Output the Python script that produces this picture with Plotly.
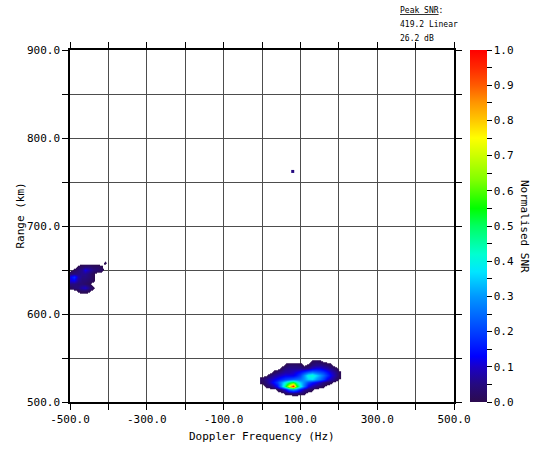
import plotly.graph_objects as go

# ---------------- data ----------------
# main echo (Doppler 0..200 Hz, range 506..550 km), normalised SNR
main_freq = [0, 10, 20, 30, 40, 50, 60, 70, 80, 90, 100, 110, 120, 130, 140, 150, 160, 170, 180, 190, 200]
main_range = [506, 510, 514, 518, 522, 526, 530, 534, 538, 542, 546, 550]
main_snr = [
    [0, 0, 0, 0, 0, 0, 0, 0, 0, 0, 0, 0, 0, 0, 0, 0, 0, 0, 0, 0, 0],
    [0, 0, 0, 0, 0, 0, 0.02, 0.03, 0.04, 0.04, 0.03, 0.02, 0, 0, 0, 0, 0, 0, 0, 0, 0],
    [0, 0, 0, 0, 0.02, 0.05, 0.12, 0.25, 0.3, 0.25, 0.15, 0.07, 0.04, 0.02, 0, 0, 0, 0, 0, 0, 0],
    [0, 0.02, 0.04, 0.07, 0.14, 0.3, 0.5, 0.75, 1.0, 0.6, 0.4, 0.25, 0.12, 0.08, 0.05, 0.03, 0.02, 0, 0, 0, 0],
    [0.02, 0.05, 0.1, 0.14, 0.2, 0.3, 0.4, 0.5, 0.55, 0.45, 0.35, 0.28, 0.2, 0.15, 0.12, 0.08, 0.05, 0.03, 0.02, 0, 0],
    [0.03, 0.06, 0.09, 0.11, 0.14, 0.17, 0.2, 0.22, 0.24, 0.25, 0.26, 0.3, 0.35, 0.36, 0.3, 0.25, 0.2, 0.12, 0.08, 0.04, 0.01],
    [0, 0.01, 0.04, 0.06, 0.08, 0.1, 0.12, 0.12, 0.12, 0.15, 0.2, 0.3, 0.4, 0.42, 0.36, 0.3, 0.25, 0.18, 0.12, 0.07, 0.02],
    [0, 0, 0, 0.02, 0.04, 0.06, 0.08, 0.08, 0.1, 0.12, 0.15, 0.2, 0.25, 0.28, 0.25, 0.22, 0.2, 0.15, 0.1, 0.06, 0.02],
    [0, 0, 0, 0, 0, 0.02, 0.05, 0.06, 0.06, 0.06, 0.06, 0.05, 0.06, 0.1, 0.12, 0.12, 0.1, 0.08, 0.05, 0.03, 0],
    [0, 0, 0, 0, 0, 0, 0.02, 0.04, 0.04, 0.04, 0.03, 0.01, 0.02, 0.05, 0.06, 0.06, 0.05, 0.04, 0.02, 0, 0],
    [0, 0, 0, 0, 0, 0, 0, 0, 0, 0, 0, 0, 0, 0.02, 0.03, 0.02, 0.01, 0, 0, 0, 0],
    [0, 0, 0, 0, 0, 0, 0, 0, 0, 0, 0, 0, 0, 0, 0, 0, 0, 0, 0, 0, 0],
]

# weak echo at the left edge (Doppler -500..-400 Hz, range 622..662 km)
left_freq = [-500, -490, -480, -470, -460, -450, -440, -430, -420, -410, -400]
left_range = [622, 626, 630, 634, 638, 642, 646, 650, 654, 658, 662]
left_snr = [
    [0, 0, 0, 0, 0, 0, 0, 0, 0, 0, 0],
    [0, 0, 0.02, 0.03, 0.03, 0.02, 0, 0, 0, 0, 0],
    [0.02, 0.04, 0.05, 0.08, 0.1, 0.05, 0.02, 0, 0, 0, 0],
    [0.05, 0.05, 0.04, 0.04, 0.03, 0.02, 0, 0, 0, 0, 0],
    [0.1, 0.12, 0.06, 0.04, 0.04, 0.03, 0.02, 0, 0, 0, 0],
    [0.12, 0.18, 0.08, 0.05, 0.05, 0.04, 0.02, 0, 0, 0, 0],
    [0.04, 0.05, 0.05, 0.06, 0.06, 0.04, 0.02, 0, 0, 0, 0],
    [0, 0.02, 0.04, 0.06, 0.12, 0.08, 0.05, 0.04, 0.03, 0, 0],
    [0, 0, 0.02, 0.03, 0.04, 0.04, 0.03, 0.03, 0.02, 0, 0],
    [0, 0, 0, 0, 0, 0, 0, 0, 0, 0.02, 0],
    [0, 0, 0, 0, 0, 0, 0, 0, 0, 0, 0],
]

# isolated single-cell detections
speck_freq = [80]
speck_range = [762]
speck_snr = [0.05]

x_tickvals = [-500, -400, -300, -200, -100, 0, 100, 200, 300, 400, 500]
x_ticktext = ["-500.0", "", "-300.0", "", "-100.0", "", "100.0", "", "300.0", "", "500.0"]
y_tickvals = [500, 550, 600, 650, 700, 750, 800, 850, 900]
y_ticktext = ["500.0", "", "600.0", "", "700.0", "", "800.0", "", "900.0"]
c_tickvals = [0, 0.05, 0.1, 0.15, 0.2, 0.25, 0.3, 0.35, 0.4, 0.45, 0.5,
              0.55, 0.6, 0.65, 0.7, 0.75, 0.8, 0.85, 0.9, 0.95, 1.0]
c_ticktext = ["0.0", "", "0.1", "", "0.2", "", "0.3", "", "0.4", "", "0.5",
              "", "0.6", "", "0.7", "", "0.8", "", "0.9", "", "1.0"]

peak_lines = ["<u>Peak SNR</u>:", "419.2 Linear", "26.2 dB"]

# ---------------- styling ----------------
FONT = "DejaVu Sans Mono"
cbar_scale = [
    [0.0, "#2c0b4f"], [0.05, "#250a80"], [0.1, "#1a00c8"], [0.13, "#0000ff"],
    [0.2, "#0040ff"], [0.3, "#0098ff"], [0.37, "#00e6ff"], [0.42, "#00ffd0"],
    [0.5, "#00ff60"], [0.55, "#00ff00"], [0.63, "#80ff00"], [0.7, "#ccff00"],
    [0.75, "#ffff00"], [0.8, "#ffc800"], [0.85, "#ff9600"], [0.9, "#ff5a00"],
    [0.95, "#ff2800"], [1.0, "#ff0000"],
]
THR = 0.012
heat_scale = [[0.0, "rgba(255,255,255,0)"], [THR, "rgba(255,255,255,0)"], [THR, "#2c0b4f"]] + \
    [s for s in cbar_scale if s[0] > THR]

fig = go.Figure()
for fx, ry, zz in [(main_freq, main_range, main_snr), (left_freq, left_range, left_snr)]:
    fig.add_trace(go.Heatmap(
        x=fx, y=ry, z=zz, zmin=0, zmax=1, colorscale=heat_scale,
        zsmooth="best", showscale=False, hoverinfo="skip"))

fig.add_trace(go.Scatter(
    x=speck_freq, y=speck_range, mode="markers", hoverinfo="skip",
    marker=dict(symbol="square", size=3, color=speck_snr, cmin=0, cmax=1,
                colorscale=cbar_scale, line=dict(width=0)),
    showlegend=False))

# colour bar
fig.add_trace(go.Scatter(
    x=[None], y=[None], mode="markers", showlegend=False, hoverinfo="skip",
    marker=dict(color=[0], cmin=0, cmax=1, colorscale=cbar_scale, showscale=True,
                colorbar=dict(
                    x=1.0417, xanchor="left", xpad=0, ypad=0,
                    y=0.5, yanchor="middle", len=1, lenmode="fraction",
                    thickness=17, outlinewidth=0,
                    tickmode="array", tickvals=c_tickvals, ticktext=c_ticktext,
                    ticks="outside", ticklen=5, tickcolor="black", tickwidth=1,
                    tickfont=dict(family=FONT, size=11, color="black")))))

axis_common = dict(
    showline=True, linecolor="black", linewidth=1.5, mirror="allticks",
    ticks="outside", ticklen=6, tickcolor="black", tickwidth=1.2,
    showgrid=True, gridcolor="#4d4d4d", gridwidth=1, zeroline=False,
    tickfont=dict(family=FONT, size=11, color="black"), tickmode="array",
)
fig.update_xaxes(range=[-500, 500], tickvals=x_tickvals, ticktext=x_ticktext, **axis_common)
fig.update_yaxes(range=[500, 900], tickvals=y_tickvals, ticktext=y_ticktext, **axis_common)

annos = [
    dict(text="Doppler Frequency (Hz)", x=0.5, y=-0.0994, xref="paper", yref="paper",
         xanchor="center", yanchor="middle", showarrow=False,
         font=dict(family=FONT, size=11, color="black")),
    dict(text="Range (km)", x=-0.130, y=0.53, xref="paper", yref="paper", textangle=-90,
         xanchor="center", yanchor="middle", showarrow=False,
         font=dict(family=FONT, size=11, color="black")),
    dict(text="Normalised SNR", x=1.185, y=0.5, xref="paper", yref="paper", textangle=90,
         xanchor="center", yanchor="middle", showarrow=False,
         font=dict(family=FONT, size=11, color="black")),
]
for i, line in enumerate(peak_lines):
    annos.append(dict(text=line, x=0.854, y=1.1136 - i * 0.0398, xref="paper", yref="paper",
                      xanchor="left", yanchor="middle", showarrow=False,
                      font=dict(family=FONT, size=8, color="black")))

fig.update_layout(
    width=536, height=450,
    margin=dict(l=70, r=82, t=50, b=48),
    paper_bgcolor="white", plot_bgcolor="white",
    showlegend=False, annotations=annos,
)

# remove the default page margin so the figure fills the window from its top-left corner
fig.write_html("out.html", config={"displayModeBar": False},
               post_script="document.body.style.margin='0';")
